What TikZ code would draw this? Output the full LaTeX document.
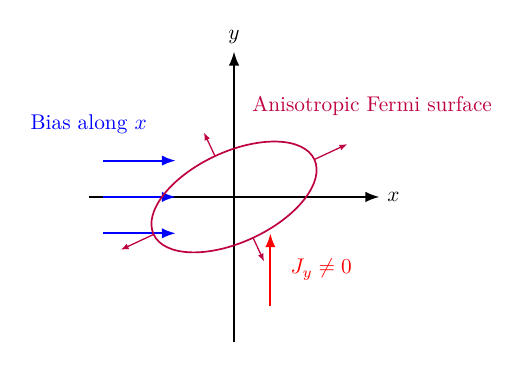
\documentclass[tikz,border=0pt]{standalone}
\usepackage{amsmath}
\usepackage{amssymb}
\usepackage{xcolor}
\usetikzlibrary{arrows.meta,positioning}

\begin{document}
\begin{tikzpicture}[
        scale=1.2,
        axis/.style={->, thick},
        bias/.style={-{Latex[length=2.3mm,width=1.7mm]}, line width=1pt, blue},
        fermi/.style={thick, purple},
        normal/.style={-{Latex[length=1.3mm]}, semithick, purple},
        >=Latex
    ]
        \useasboundingbox (-3.22,-2.34) rectangle (3.99,2.71);
        % axes
        \coordinate (xl) at (-2,0);
        \coordinate (xr) at (2,0);
        \coordinate (yb) at (0,-2);
        \coordinate (yt) at (0,2);
        \draw[axis] (xl) -- (xr) node[right] (xlab) {$x$};
        \draw[axis] (yb) -- (yt) node[above] (ylab) {$y$};
        % applied bias
        \foreach \i/\yy in {1/0.5,2/0,3/-0.5} {
            \coordinate (bs\i) at (-1.8,\yy);
            \coordinate (be\i) at (-0.8,\yy);
            \draw[bias] (bs\i) -- (be\i);
        }
        \node[blue] (biaslab) at (-2,1) {Bias along $x$};
        % Fermi surface with normals
        \begin{scope}[rotate=25]
            \draw[fermi] (0,0) ellipse (1.22 and 0.62);
            \coordinate (e1) at (1.22,0);
            \coordinate (n1) at (1.72,0);
            \coordinate (e2) at (0,0.62);
            \coordinate (n2) at (0,0.98);
            \coordinate (e3) at (-1.22,0);
            \coordinate (n3) at (-1.72,0);
            \coordinate (e4) at (0,-0.62);
            \coordinate (n4) at (0,-0.98);
        \end{scope}
        \foreach \i in {1,...,4}
            \draw[normal] (e\i) -- (n\i);
        \node[purple] (fermilab) at (1.9,1.25) {Anisotropic Fermi surface};
        % transverse current
        \coordinate (js) at (0.5,-1.5);
        \coordinate (je) at (0.5,-0.5);
        \draw[bias, red] (js) -- (je);
        \node[red] (jlab) at (1.2,-1) {$J_y \neq 0$};
    \end{tikzpicture}
\end{document}
